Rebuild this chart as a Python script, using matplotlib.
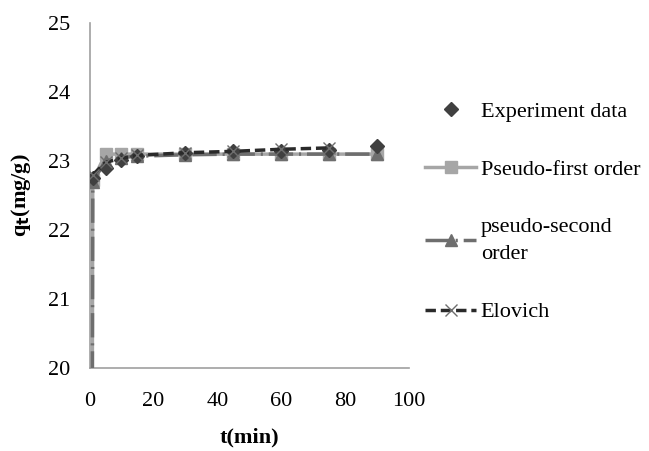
import matplotlib.pyplot as plt

plt.rcParams['font.family'] = ['Liberation Serif', 'DejaVu Serif']

# --- Data ---
t_exp = [1, 5, 10, 15, 30, 45, 60, 75, 90]
q_exp = [22.75, 22.90, 23.02, 23.07, 23.12, 23.14, 23.15, 23.16, 23.22]

t_model = [0, 1, 5, 10, 15, 30, 45, 60, 75, 90]
q_pfo = [0, 22.72, 23.10, 23.10, 23.10, 23.10, 23.10, 23.10, 23.10, 23.10]
q_pso = [0, 22.70, 23.00, 23.05, 23.07, 23.09, 23.10, 23.10, 23.10, 23.10]

t_elo = [1, 5, 10, 15, 30, 45, 60, 75]
q_elo = [22.80, 22.98, 23.04, 23.08, 23.12, 23.14, 23.17, 23.19]

x_ticks = [0, 20, 40, 60, 80, 100]
y_ticks = [20, 21, 22, 23, 24, 25]

# --- Plot ---
fig = plt.figure(figsize=(6.49, 4.51), dpi=100)
ax = fig.add_axes([0.138, 0.184, 0.492, 0.765])

ax.plot(t_exp, q_exp, linestyle='none', marker='D', markersize=7,
        color='#404040', label='Experiment data', zorder=5)
ax.plot(t_model, q_pfo, color='#a6a6a6', linewidth=2.5, marker='s',
        markersize=9, label='Pseudo-first order', zorder=3)
ax.plot(t_model, q_pso, color='#6e6e6e', linewidth=2.5,
        dashes=(7, 1.7, 0.6, 1.7), marker='^',
        markersize=9, label='pseudo-second\norder', zorder=4)
ax.plot(t_elo, q_elo, color='#2a2a2a', linewidth=2.5,
        dashes=(3, 1.4), marker='x', markersize=9, markeredgewidth=1,
        markeredgecolor='#6e6e6e', label='Elovich', zorder=6)

ax.set_xlim(0, 100)
ax.set_ylim(20, 25)
ax.set_xticks(x_ticks)
ax.set_yticks(y_ticks)
ax.tick_params(length=0, labelsize=16)
ax.tick_params(axis='x', pad=17)
ax.tick_params(axis='y', pad=14)

for side in ['top', 'right']:
    ax.spines[side].set_visible(False)
for side in ['left', 'bottom']:
    ax.spines[side].set_color('#a0a0a0')
    ax.spines[side].set_linewidth(1.2)

ax.set_xlabel('t(min)', fontsize=16, fontweight='bold', labelpad=12)
ax.set_ylabel(r'q$_\mathbf{t}$(mg/g)', fontsize=16, fontweight='bold', labelpad=11)

leg = fig.legend(loc='upper left', bbox_to_anchor=(0.655, 0.776), frameon=False,
                 fontsize=16, labelspacing=1.7, handlelength=2.3,
                 handletextpad=0.2, borderaxespad=0, borderpad=0)
leg.get_texts()[2].set_linespacing(1.6)

fig.savefig('out.png', dpi=100)
